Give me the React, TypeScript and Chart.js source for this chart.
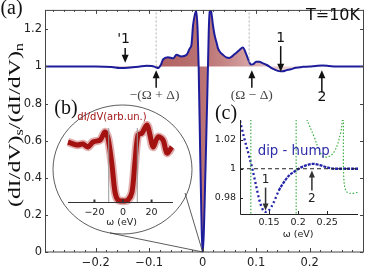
import React, { useEffect, useRef } from "react";
import { Chart, registerables } from "chart.js";
Chart.register(...registerables);

const W = 366, H = 269;
const SANS = '"DejaVu Sans", sans-serif';
const SERIF = '"Liberation Serif", serif';

// ---- panel (a): normalized conductance ----
const mainX = [-0.295, -0.25, -0.2, -0.17, -0.155, -0.14, -0.12, -0.105, -0.095, -0.088, -0.083, -0.078, -0.074, -0.065, -0.055, -0.049, -0.04, -0.03, -0.024, -0.021, -0.018, -0.015, -0.012, -0.0095, -0.0075, -0.0043, 0, 0.0056, 0.0099, 0.0115, 0.013, 0.015, 0.0193, 0.0224, 0.0256, 0.0287, 0.0318, 0.038, 0.0443, 0.05, 0.06, 0.069, 0.075, 0.082, 0.087, 0.09, 0.095, 0.1, 0.106, 0.112, 0.12, 0.128, 0.136, 0.143, 0.15, 0.156, 0.165, 0.174, 0.187, 0.2, 0.212, 0.224, 0.236, 0.249, 0.27, 0.3];
const mainY = [1.0, 1.0, 1.0, 0.997, 0.992, 0.993, 0.998, 1.004, 1.003, 0.996, 0.992, 1.01, 1.038, 1.05, 1.044, 1.063, 1.054, 1.063, 1.098, 1.116, 1.221, 1.274, 1.30, 1.2, 1.0, 0.48, 0.0, 0.48, 1.0, 1.2, 1.29, 1.31, 1.221, 1.168, 1.133, 1.098, 1.081, 1.063, 1.049, 1.046, 1.067, 1.089, 1.102, 1.063, 1.025, 1.011, 1.013, 1.026, 1.025, 1.018, 1.008, 0.993, 0.982, 0.975, 0.974, 0.979, 0.985, 0.993, 0.998, 1.0, 1.003, 1.005, 1.003, 1.0, 1.0, 1.0];
const mainXTicks = [-0.2, -0.1, 0, 0.1, 0.2];
const mainYTicks = [0, 0.2, 0.4, 0.6, 0.8, 1, 1.2];
const markerX = [-0.087, 0.087];

// ---- inset (b): raw dI/dV ----
const bX = [-38.5, -32, -28, -24.5, -21, -16, -12.6, -10.5, -7.7, -5.6, -3.5, 0, 3.5, 6.3, 8.4, 10.5, 13.3, 16.8, 18.9, 21, 24.5, 28, 30.8, 34.3];
const bY = [0.60, 0.57, 0.58, 0.55, 0.60, 0.62, 0.70, 0.64, 0.37, 0.10, 0.02, 0.01, 0.02, 0.10, 0.40, 0.67, 0.69, 0.77, 0.67, 0.55, 0.65, 0.62, 0.49, 0.55];
const bTicks = [-20, 0, 20];
const bGapX = [-10, 10];

// ---- inset (c): dip-hump ----
const cX = [0.1, 0.1073, 0.1158, 0.1215, 0.1271, 0.1328, 0.1384, 0.1441, 0.1497, 0.1582, 0.1667, 0.1751, 0.1836, 0.1949, 0.2062, 0.2147, 0.226, 0.2373, 0.2486, 0.2627, 0.28, 0.303];
const cY = [1.033, 1.021, 1.0086, 0.9995, 0.9894, 0.9792, 0.9724, 0.9702, 0.9713, 0.977, 0.9849, 0.9905, 0.995, 0.9984, 1.0011, 1.0025, 1.0034, 1.0025, 1.0011, 1.0, 1.0, 1.0];
const g1X = [0.1186, 0.1186], g1Y = [0.96, 1.04];
const g2X = [0.1966, 0.1966], g2Y = [0.96, 1.04];
const g3X = [0.2148, 0.2271, 0.2407, 0.2508, 0.2627, 0.2729, 0.2763];
const g3Y = [1.034, 1.0224, 1.0095, 1.0081, 1.0122, 1.0244, 1.034];
const g4X = [0.278, 0.278, 0.2797, 0.283, 0.2898, 0.303];
const g4Y = [1.034, 0.9993, 0.9885, 0.9844, 0.983, 0.9837];
const cXTicks = [0.15, 0.2, 0.25];
const cYTicks = [0.98, 1, 1.02];

const pts = (xs: number[], ys: number[]) => xs.map((x, i) => ({ x, y: ys[i] }));

function txt(ctx: CanvasRenderingContext2D, s: string, x: number, y: number, font: string, color: string, align: CanvasTextAlign = "center") {
  ctx.font = font; ctx.fillStyle = color; ctx.textAlign = align; ctx.textBaseline = "middle";
  ctx.fillText(s, x, y);
}
function arrow(ctx: CanvasRenderingContext2D, x: number, y1: number, y2: number, color: string, hw = 3.5, hl = 8) {
  const d = Math.sign(y2 - y1);
  ctx.strokeStyle = color; ctx.fillStyle = color; ctx.lineWidth = 1.5;
  ctx.beginPath(); ctx.moveTo(x, y1); ctx.lineTo(x, y2 - d * hl * 0.7); ctx.stroke();
  ctx.beginPath(); ctx.moveTo(x, y2); ctx.lineTo(x - hw, y2 - d * hl); ctx.lineTo(x + hw, y2 - d * hl); ctx.closePath(); ctx.fill();
}

function mainFill(c: any) {
  const chart = c.chart; const a = chart.chartArea;
  if (!a) return "rgb(190,120,120)";
  const xs = chart.scales.x;
  const g = chart.ctx.createLinearGradient(xs.getPixelForValue(-0.2), 0, xs.getPixelForValue(0.2), 0);
  g.addColorStop(0, "rgb(240,224,224)");
  g.addColorStop(0.27, "rgb(176,96,96)");
  g.addColorStop(0.5, "rgb(186,114,114)");
  g.addColorStop(0.62, "rgb(200,138,138)");
  g.addColorStop(0.75, "rgb(218,172,172)");
  g.addColorStop(0.87, "rgb(234,208,208)");
  g.addColorStop(1, "rgb(246,236,236)");
  return g;
}

const mainPlugin = {
  id: "mainDeco",
  afterDraw(chart: any) {
    const { ctx, chartArea: a, scales: { x, y } } = chart;
    ctx.save();
    ctx.strokeStyle = "#444"; ctx.lineWidth = 1;
    ctx.strokeRect(a.left + 0.5, a.top + 0.5, a.right - a.left, a.bottom - a.top - 0.5);
    for (let i = -14; i <= 15; i++) {
      const v = i * 0.02; if (v < -0.295 || v > 0.3) continue;
      const px = Math.round(x.getPixelForValue(v)) + 0.5;
      const len = i % 5 === 0 ? 4 : 2;
      ctx.beginPath(); ctx.moveTo(px, a.bottom); ctx.lineTo(px, a.bottom - len);
      ctx.moveTo(px, a.top); ctx.lineTo(px, a.top + len); ctx.stroke();
    }
    for (const v of mainYTicks) {
      const py = Math.round(y.getPixelForValue(v)) + 0.5;
      ctx.beginPath(); ctx.moveTo(a.left, py); ctx.lineTo(a.left + 3, py);
      ctx.moveTo(a.right, py); ctx.lineTo(a.right - 3, py); ctx.stroke();
    }
    const tx = x.getPixelForValue(0), ty = y.getPixelForValue(0);
    ctx.strokeStyle = "#333"; ctx.lineWidth = 0.8;
    ctx.beginPath(); ctx.ellipse(122.5, 169.5, 69.5, 64.5, 0, 0, Math.PI * 2); ctx.stroke();
    ctx.beginPath(); ctx.moveTo(110, 233); ctx.lineTo(tx, ty); ctx.moveTo(185, 193); ctx.lineTo(tx, ty); ctx.stroke();
    const X = (v: number) => x.getPixelForValue(v), Y = (v: number) => y.getPixelForValue(v);
    arrow(ctx, X(-0.145), Y(1.10), Y(1.02), "#111");
    arrow(ctx, X(-0.087), Y(0.886), Y(0.98), "#111");
    arrow(ctx, X(0.092), Y(0.886), Y(0.98), "#111");
    arrow(ctx, X(0.146), Y(1.11), Y(0.972), "#111");
    arrow(ctx, X(0.223), Y(0.86), Y(0.98), "#111");
    txt(ctx, "'1", X(-0.148), Y(1.148), `14px ${SANS}`, "#111");
    txt(ctx, "1", X(0.146), Y(1.153), `14px ${SANS}`, "#111");
    txt(ctx, "2", X(0.223), Y(0.833), `14px ${SANS}`, "#111");
    txt(ctx, "\u2212(\u03A9 + \u0394)", X(-0.09), Y(0.844), `13.5px ${SERIF}`, "#444");
    txt(ctx, "(\u03A9 \u2212 \u0394)", X(0.092), Y(0.844), `13.5px ${SERIF}`, "#444");
    txt(ctx, "T=10K", 333, 16, `16px ${SANS}`, "#111");
    txt(ctx, "(a)", 11.5, 9, `20px ${SERIF}`, "#111");
    txt(ctx, "(b)", 66, 109, `20px ${SERIF}`, "#111");
    txt(ctx, "(c)", 226, 114, `20px ${SERIF}`, "#111");
    ctx.save();
    ctx.translate(15, 125); ctx.rotate(-Math.PI / 2);
    const big = `17.5px ${SERIF}`, small = `12px ${SERIF}`;
    const parts: [string, string, number][] = [["(dI/dV)", big, 0], ["s", small, 5], ["/(dI/dV)", big, 0], ["n", small, 5]];
    let total = 0; const ws: number[] = [];
    for (const [s, f] of parts) { ctx.font = f; const w = ctx.measureText(s).width; ws.push(w); total += w; }
    const k = 164 / total; ctx.scale(k, 1);
    let cx = -total / 2;
    ctx.fillStyle = "#111"; ctx.textAlign = "left"; ctx.textBaseline = "middle";
    parts.forEach(([s, f, dy], i) => { ctx.font = f; ctx.fillText(s, cx, dy); cx += ws[i]; });
    ctx.restore();
    ctx.restore();
  },
};

const bPlugin = {
  id: "bDeco",
  afterDraw(chart: any) {
    const { ctx, chartArea: a, scales: { x } } = chart;
    ctx.save();
    ctx.strokeStyle = "#333"; ctx.lineWidth = 1;
    ctx.beginPath(); ctx.moveTo(a.left, a.bottom + 0.5); ctx.lineTo(a.right, a.bottom + 0.5); ctx.stroke();
    ctx.lineWidth = 2;
    for (const v of bTicks) {
      const px = x.getPixelForValue(v);
      ctx.beginPath(); ctx.moveTo(px, a.bottom); ctx.lineTo(px, a.bottom - 2.5); ctx.stroke();
    }
    txt(ctx, "\u03C9 (eV)", x.getPixelForValue(-1), a.bottom + 21, `9.5px ${SANS}`, "#222");
    txt(ctx, "dI/dV(arb.un.)", x.getPixelForValue(-7.7), 117, `10px ${SANS}`, "#a01616");
    ctx.restore();
  },
};

const cPlugin = {
  id: "cDeco",
  afterDraw(chart: any) {
    const { ctx, chartArea: a, scales: { x, y } } = chart;
    ctx.save();
    ctx.strokeStyle = "#222"; ctx.lineWidth = 1;
    ctx.beginPath(); ctx.moveTo(a.left + 0.5, a.top); ctx.lineTo(a.left + 0.5, a.bottom + 0.5); ctx.lineTo(a.right, a.bottom + 0.5); ctx.stroke();
    for (const v of cYTicks) { const py = Math.round(y.getPixelForValue(v)) + 0.5; ctx.beginPath(); ctx.moveTo(a.left, py); ctx.lineTo(a.left + 3, py); ctx.stroke(); }
    for (const v of cXTicks) { const px = Math.round(x.getPixelForValue(v)) + 0.5; ctx.beginPath(); ctx.moveTo(px, a.bottom); ctx.lineTo(px, a.bottom - 3); ctx.stroke(); }
    const X = (v: number) => x.getPixelForValue(v), Y = (v: number) => y.getPixelForValue(v);
    txt(ctx, "dip - hump", X(0.1925), Y(1.0122), `13.3px ${SANS}`, "#2e2ea8");
    arrow(ctx, X(0.144), Y(0.987), Y(0.9712), "#333", 3, 7);
    arrow(ctx, X(0.2237), Y(0.985), Y(0.9988), "#333", 3, 7);
    txt(ctx, "1", X(0.144), Y(0.9925), `12px ${SANS}`, "#222");
    txt(ctx, "2", X(0.2237), Y(0.9792), `12px ${SANS}`, "#222");
    txt(ctx, "\u03C9 (eV)", X(0.2), a.bottom + 21, `9.5px ${SANS}`, "#222");
    ctx.restore();
  },
};

function fmt1(v: number) {
  if (Math.abs(v) < 1e-9) return "0";
  if (Math.abs(v - 1) < 1e-9) return "1";
  return (v < 0 ? "\u2212" : "") + Math.abs(v).toFixed(1);
}

export default function App() {
  const mainRef = useRef<HTMLCanvasElement>(null);
  const bRef = useRef<HTMLCanvasElement>(null);
  const cRef = useRef<HTMLCanvasElement>(null);

  useEffect(() => {
    const charts: Chart[] = [];
    charts.push(new Chart(mainRef.current!, {
      type: "line",
      data: {
        datasets: [
          ...markerX.map((m) => ({
            data: [{ x: m, y: 1 }, { x: m, y: 1.305 }],
            borderColor: "#b0b0b0", borderWidth: 1, borderDash: [2, 2], pointRadius: 0, fill: false,
          })),
          {
            data: pts(mainX, mainY),
            borderColor: "#1d1d9c", borderWidth: 2, pointRadius: 0,
            fill: { value: 1 }, backgroundColor: mainFill, cubicInterpolationMode: "monotone",
          },
        ],
      } as any,
      options: {
        responsive: false, animation: false, devicePixelRatio: 1,
        layout: { padding: { left: 0, right: 3, top: 3, bottom: 0 } },
        plugins: { legend: { display: false }, tooltip: { enabled: false } },
        scales: {
          x: {
            type: "linear", min: -0.295, max: 0.3,
            afterFit: (s: any) => { s.height = 17; },
            afterBuildTicks: (s: any) => { s.ticks = mainXTicks.map((v) => ({ value: v })); },
            grid: { display: false, drawTicks: false }, border: { display: false },
            ticks: { padding: 4, color: "#222", font: { family: SANS, size: 11.5 }, callback: (v: any) => fmt1(+v), maxRotation: 0, autoSkip: false },
          },
          y: {
            type: "linear", min: 0, max: 1.305,
            afterFit: (s: any) => { s.width = 45; },
            afterBuildTicks: (s: any) => { s.ticks = mainYTicks.map((v) => ({ value: v })); },
            grid: { display: false, drawTicks: false }, border: { display: false },
            ticks: { padding: 3, color: "#222", font: { family: SANS, size: 11.5 }, callback: (v: any) => fmt1(+v), autoSkip: false },
          },
        },
      } as any,
      plugins: [mainPlugin],
    }));

    charts.push(new Chart(bRef.current!, {
      type: "line",
      data: {
        datasets: [
          ...bGapX.map((g) => ({
            data: [{ x: g, y: 0 }, { x: g, y: 0.74 }],
            borderColor: "#9a9a9a", borderWidth: 1, pointRadius: 0, fill: false,
          })),
          {
            data: pts(bX, bY), borderColor: "rgba(170,30,30,0.35)", borderWidth: 8.5,
            pointRadius: 0, fill: false, tension: 0.3, clip: false,
          },
          {
            data: pts(bX, bY), borderColor: "#a00c0c", borderWidth: 5,
            pointRadius: 0, fill: false, tension: 0.3, clip: false,
          },
        ],
      } as any,
      options: {
        responsive: false, animation: false, devicePixelRatio: 1,
        layout: { padding: { left: 68, right: 193, top: 120, bottom: 0 } },
        plugins: { legend: { display: false }, tooltip: { enabled: false } },
        scales: {
          x: {
            type: "linear", min: -38.5, max: 35,
            afterFit: (s: any) => { s.height = 67; },
            afterBuildTicks: (s: any) => { s.ticks = bTicks.map((v) => ({ value: v })); },
            grid: { display: false, drawTicks: false }, border: { display: false },
            ticks: { padding: 5, color: "#222", font: { family: SANS, size: 9.5 }, callback: (v: any) => (+v < 0 ? "\u2212" : "") + Math.abs(+v), maxRotation: 0, autoSkip: false },
          },
          y: { type: "linear", min: 0, max: 0.82, display: false },
        },
      } as any,
      plugins: [bPlugin],
    }));

    const green = { borderColor: "#3fae45", borderWidth: 1.2, borderDash: [1.5, 1.8], pointRadius: 0, fill: false };
    charts.push(new Chart(cRef.current!, {
      type: "line",
      data: {
        datasets: [
          { data: [{ x: 0.1, y: 1 }, { x: 0.303, y: 1 }], borderColor: "#222", borderWidth: 1, borderDash: [4, 3], pointRadius: 0, fill: false },
          { data: pts(g1X, g1Y), ...green },
          { data: pts(g2X, g2Y), ...green },
          { data: pts(g3X, g3Y), ...green, tension: 0.4 },
          { data: pts(g4X, g4Y), ...green, tension: 0.3 },
          {
            data: pts(cX, cY), borderColor: "#2424a8", borderWidth: 2.3, pointRadius: 0, fill: false,
            cubicInterpolationMode: "monotone",
            segment: { borderDash: (c: any) => (c.p0.parsed.x < 0.165 ? [2, 2.5] : [3, 1]) },
          },
        ],
      } as any,
      options: {
        responsive: false, animation: false, devicePixelRatio: 1,
        layout: { padding: { left: 200, right: 8, top: 120, bottom: 0 } },
        plugins: { legend: { display: false }, tooltip: { enabled: false } },
        scales: {
          x: {
            type: "linear", min: 0.1, max: 0.303,
            afterFit: (s: any) => { s.height = 55; },
            afterBuildTicks: (s: any) => { s.ticks = cXTicks.map((v) => ({ value: v })); },
            grid: { display: false, drawTicks: false }, border: { display: false },
            ticks: { padding: 3, color: "#222", font: { family: SANS, size: 9.5 }, callback: (v: any) => String(+(+v).toFixed(2)), maxRotation: 0, autoSkip: false },
          },
          y: {
            type: "linear", min: 0.9688, max: 1.0336,
            afterFit: (s: any) => { s.width = 40; },
            afterBuildTicks: (s: any) => { s.ticks = cYTicks.map((v) => ({ value: v })); },
            grid: { display: false, drawTicks: false }, border: { display: false },
            ticks: { padding: 4, color: "#222", font: { family: SANS, size: 9.5 }, callback: (v: any) => String(+(+v).toFixed(2)), autoSkip: false },
          },
        },
      } as any,
      plugins: [cPlugin],
    }));

    return () => charts.forEach((c) => c.destroy());
  }, []);

  const cs: React.CSSProperties = { position: "absolute", left: 0, top: 0, width: W, height: H };
  return (
    <div style={{ position: "fixed", left: 0, top: 0, width: W, height: H, background: "#fff" }}>
      <canvas ref={mainRef} width={W} height={H} style={cs} />
      <canvas ref={bRef} width={W} height={H} style={cs} />
      <canvas ref={cRef} width={W} height={H} style={cs} />
    </div>
  );
}
